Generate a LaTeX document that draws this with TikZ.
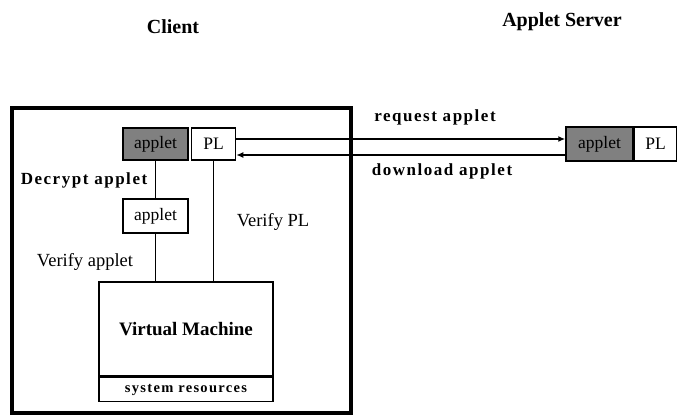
\documentclass[tikz,border=0pt]{standalone}
\usepackage{fontspec}
\setmainfont{Liberation Serif}
\newfontfamily\lblfont[LetterSpace=9]{Liberation Serif}
\usepackage{tikz}
\usetikzlibrary{positioning,arrows.meta,calc}
\definecolor{appgray}{RGB}{128,128,128}

\begin{document}
\begin{tikzpicture}[x=1pt,y=-1pt,>={Latex[length=7pt,width=6pt]},node distance=0pt,
  box/.style={draw,line width=1.5pt,minimum height=32pt,inner sep=0pt,font=\fontsize{17.5}{20}\selectfont},
  app/.style={box,fill=appgray,minimum width=65pt},
  pl/.style={box,fill=white,minimum width=44pt},
  ttl/.style={font=\fontsize{20}{24}\selectfont\bfseries},
  lbl/.style={font=\fontsize{17}{20}\selectfont\lblfont\bfseries},
  txt/.style={font=\fontsize{18.5}{21}\selectfont}]
  \useasboundingbox (0,0) rectangle (689,415);
  % titles
  \node[ttl] (client) at (173,27) {Client};
  \node[ttl] (server) at (562,22) {Applet Server};
  % client side
  \draw[line width=3.5pt] (12,108) rectangle (351,413);
  \node[app] (capp) at (155.5,144) {applet};
  \node[pl,right=2pt of capp] (cpl) {PL};
  \node[box,fill=white,minimum width=65pt,minimum height=34pt] (dapp) at (155.5,216) {applet};
  \node[draw,line width=1.5pt,minimum width=174pt,minimum height=94pt,inner sep=0pt,
    font=\fontsize{19}{22}\selectfont\bfseries] (vm) at (186,329) {Virtual Machine};
  \node[draw,line width=1.5pt,minimum width=174pt,minimum height=24pt,inner sep=0pt,
    font=\fontsize{14.5}{16}\selectfont\lblfont\bfseries,below=0pt of vm] (res) {system resources};
  \draw[line width=3pt] (vm.south west) -- (vm.south east);
  % server side
  \node[app,minimum width=67pt,minimum height=34pt] (sapp) at (599.5,144) {applet};
  \node[pl,minimum width=42pt,minimum height=34pt,right=of sapp] (spl) {PL};
  % connectors
  \draw[line width=1.5pt] (capp) -- (dapp);
  \draw[line width=1.5pt] (dapp) -- (dapp |- vm.north);
  \draw[line width=1.5pt] (cpl) -- (cpl |- vm.north);
  \draw[->,line width=1.5pt] ([yshift=5pt]cpl.east) -- ([yshift=5pt]sapp.west);
  \draw[->,line width=1.5pt] ([yshift=-11pt]sapp.west) -- ([yshift=-11pt]cpl.east);
  % labels
  \node[lbl] (req) at (435,117) {request applet};
  \node[lbl] (dl) at (442,171) {download applet};
  \node[lbl] (dec) at (84,180) {Decrypt applet};
  \node[txt] (vapp) at (85,262) {Verify applet};
  \node[txt] (vpl) at (273,222) {Verify PL};
\end{tikzpicture}
\end{document}
